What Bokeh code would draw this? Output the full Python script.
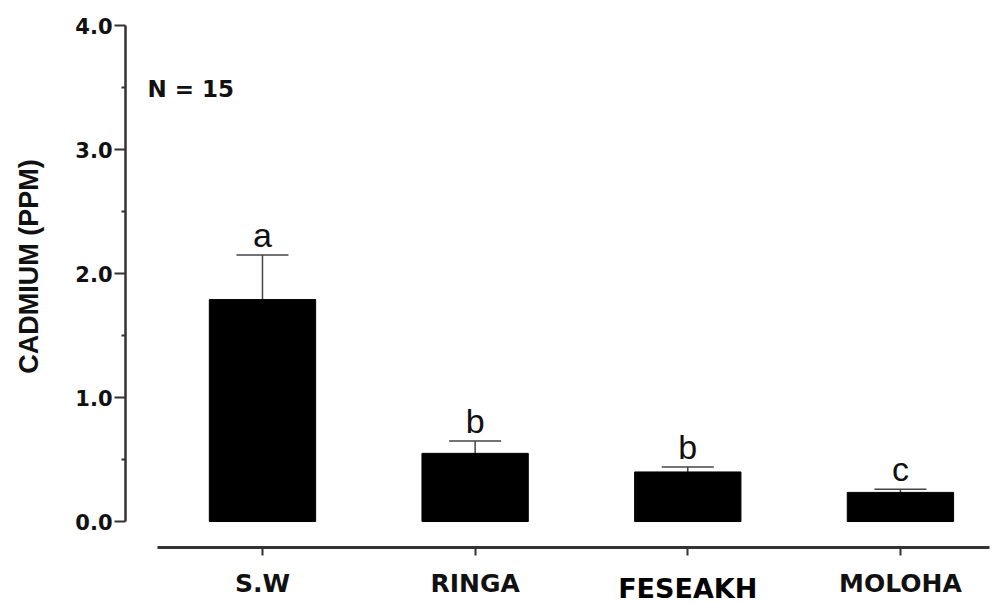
import math
from bokeh.plotting import figure
from bokeh.models import (ColumnDataSource, Whisker, TeeHead, LabelSet, Label,
                          FixedTicker, PrintfTickFormatter, Range1d)
from bokeh.core.properties import value
from bokeh.embed import file_html
from bokeh.resources import INLINE

categories = ["S.W", "RINGA", "FESEAKH", "MOLOHA"]
means = [1.79, 0.55, 0.40, 0.235]
errors = [0.36, 0.10, 0.04, 0.025]
letters = ["a", "b", "b", "c"]
y_ticks = [0, 1, 2, 3, 4]
y_minor = [0.5, 1.5, 2.5, 3.5]

xs = list(range(len(categories)))
upper = [m + e for m, e in zip(means, errors)]
src = ColumnDataSource(dict(x=xs, mean=means, upper=upper, letter=letters))

# the frame covers the whole canvas; axes are pinned with fixed_location
p = figure(width=992, height=604, output_backend="svg", toolbar_location=None,
           x_range=Range1d(-1.232, 3.433), y_range=Range1d(-0.669, 4.202),
           min_border_left=0, min_border_right=0, min_border_top=0,
           min_border_bottom=0)
p.outline_line_color = None
p.grid.visible = False
p.background_fill_color = "white"

p.vbar(x="x", top="mean", bottom=0, width=0.5, source=src,
       fill_color="black", line_color="black")

wh = Whisker(base="x", upper="upper", lower="mean", source=src,
             line_color="#444444", line_width=1.5, lower_head=None,
             upper_head=TeeHead(size=52, line_color="#444444", line_width=1.5))
p.add_layout(wh)

p.add_layout(LabelSet(x="x", y="upper", text="letter", source=src, y_offset=8,
                      text_align="center", text_baseline="alphabetic",
                      text_font=value("Liberation Sans"), text_font_size=value("34px"),
                      text_color="#111111"))

# y axis
ya = p.yaxis[0]
ya.fixed_location = -0.644
ya.ticker = FixedTicker(ticks=y_ticks, minor_ticks=y_minor)
ya.formatter = PrintfTickFormatter(format="%.1f")
ya.bounds = (0, 4)
ya.axis_line_width = 2.5
ya.axis_line_color = "#333333"
ya.major_tick_out = 11
ya.major_tick_in = 0
ya.major_tick_line_width = 2
ya.major_tick_line_color = "#333333"
ya.minor_tick_out = 4
ya.minor_tick_in = 0
ya.minor_tick_line_width = 2
ya.minor_tick_line_color = "#333333"
ya.major_label_standoff = 2
ya.major_label_text_font = "DejaVu Sans"
ya.major_label_text_font_style = "bold"
ya.major_label_text_font_size = "21px"
ya.major_label_text_color = "#111111"

p.add_layout(Label(x=-1.096, y=2.056, text="CADMIUM (PPM)", angle=math.pi / 2,
                   text_align="center", text_baseline="middle",
                   text_font="Liberation Sans", text_font_style="bold",
                   text_font_size="27px", text_color="#111111"))

# x axis
xa = p.xaxis[0]
xa.fixed_location = -0.206
xa.ticker = FixedTicker(ticks=xs, minor_ticks=[])
xa.major_label_overrides = {i: (c if c != "FESEAKH" else "") for i, c in enumerate(categories)}
xa.bounds = (-0.494, 3.42)
xa.axis_line_width = 3
xa.axis_line_color = "#333333"
xa.major_tick_out = 8
xa.major_tick_in = 0
xa.major_tick_line_width = 2
xa.major_tick_line_color = "#333333"
xa.minor_tick_out = 0
xa.major_label_standoff = 14
xa.major_label_text_font = "DejaVu Sans"
xa.major_label_text_font_style = "bold"
xa.major_label_text_font_size = "25px"
xa.major_label_text_color = "#111111"

p.add_layout(Label(x=2, y=-0.540, text="FESEAKH", text_align="center",
                   text_baseline="middle", text_font="DejaVu Sans",
                   text_font_style="bold", text_font_size="27px",
                   text_color="black"))

p.add_layout(Label(x=-0.541, y=3.492, text="N = 15", text_align="left",
                   text_baseline="middle", text_font="DejaVu Sans",
                   text_font_style="bold", text_font_size="23px",
                   text_color="#111111"))

open("out.html", "w").write(file_html(p, INLINE))
